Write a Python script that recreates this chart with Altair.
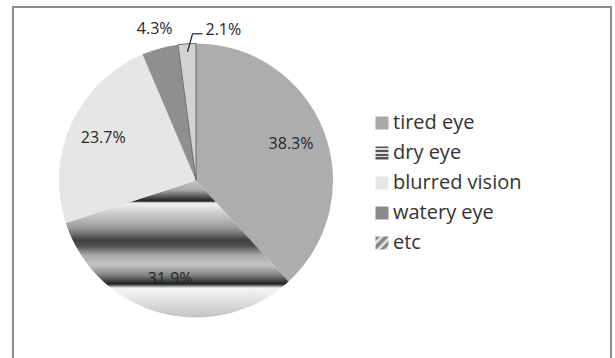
import math

import altair as alt
import pandas as pd

# Survey of eye symptoms: share of respondents per symptom (%)
categories = ["tired eye", "dry eye", "blurred vision", "watery eye", "etc"]
shares = [38.3, 31.9, 23.7, 4.3, 2.1]
share_labels = ["38.3%", "31.9%", "23.7%", "4.3%", "2.1%"]

df = pd.DataFrame({
    "cat": categories,
    "val": shares,
    "label": share_labels,
    "order": list(range(len(categories))),
})

# pie geometry (pixels)
CX, CY, R = 196, 180.5, 137
FONT = "Open Sans"
TEXT = "#262626"


def grad(stops, x1=0, y1=0, x2=0, y2=1):
    return alt.LinearGradient(
        gradient="linear", x1=x1, y1=y1, x2=x2, y2=y2,
        stops=[alt.GradientStop(offset=o, color=c) for o, c in stops],
    )


# banded shading for "dry eye"
dry_fill = grad([
    (0.0, "#c4c4c4"), (0.07, "#a8a8a8"), (0.15, "#1e1e1e"), (0.164, "#f2f2f2"),
    (0.215, "#d8d8d8"), (0.347, "#9a9a9a"), (0.434, "#404040"), (0.478, "#505050"),
    (0.544, "#a8a8a8"), (0.617, "#c4c4c4"), (0.697, "#7a7a7a"), (0.755, "#1e1e1e"),
    (0.785, "#f4f4f4"), (0.872, "#e2e2e2"), (1.0, "#c2c2c2"),
])
dry_symbol = grad([
    (0.0, "#555"), (0.15, "#555"), (0.15, "#ddd"), (0.28, "#ddd"),
    (0.28, "#555"), (0.43, "#555"), (0.43, "#ddd"), (0.56, "#ddd"),
    (0.56, "#555"), (0.71, "#555"), (0.71, "#ddd"), (0.84, "#ddd"),
    (0.84, "#555"), (1.0, "#555"),
])
etc_symbol = grad([
    (0.0, "#888"), (0.17, "#888"), (0.17, "#ddd"), (0.33, "#ddd"),
    (0.33, "#888"), (0.5, "#888"), (0.5, "#ddd"), (0.67, "#ddd"),
    (0.67, "#888"), (0.83, "#888"), (0.83, "#ddd"), (1.0, "#ddd"),
], x1=0, y1=0, x2=1, y2=1)

slice_fill = {
    "tired eye": "#adadad",
    "dry eye": dry_fill,
    "blurred vision": "#e6e6e6",
    "watery eye": "#8f8f8f",
    "etc": "#d2d2d2",
}
symbol_fill = {
    "tired eye": "#a8a8a8",
    "dry eye": dry_symbol,
    "blurred vision": "#e6e6e6",
    "watery eye": "#8a8a8a",
    "etc": etc_symbol,
}

base = (
    alt.Chart(df)
    .transform_joinaggregate(total="sum(val)")
    .transform_window(cum="sum(val)", sort=[alt.SortField("order")], frame=[None, 0])
    .transform_calculate(
        f0="(datum.cum - datum.val) / datum.total",
        f1="datum.cum / datum.total",
        fm="(datum.cum - datum.val / 2) / datum.total",
    )
)

theta_scale = alt.Scale(domain=[0, 1], range=[0, 2 * math.pi])

layers = []

# frame around the whole figure
frame = alt.Chart(pd.DataFrame({"k": [0]})).mark_rect(
    filled=False, stroke="#8c8c8c", strokeWidth=2
).encode(x=alt.value(13), x2=alt.value(611), y=alt.value(7), y2=alt.value(420))
layers.append(frame)

# pie slices
for cat in categories:
    kw = {}
    if cat == "etc":
        kw = dict(stroke="#555555", strokeWidth=0.8)
    layers.append(
        base.transform_filter(alt.datum.cat == cat)
        .mark_arc(radius=R, fill=slice_fill[cat], **kw)
        .encode(
            theta=alt.Theta("f0:Q", scale=theta_scale),
            theta2="f1:Q",
            x=alt.value(CX),
            y=alt.value(CY),
        )
    )

# labels inside the three large slices
layers.append(
    base.transform_filter(alt.datum.order < 3)
    .mark_text(radius=102, font=FONT, fontSize=16, color=TEXT)
    .encode(
        theta=alt.Theta("fm:Q", scale=theta_scale),
        text="label:N",
        x=alt.value(CX),
        y=alt.value(CY),
    )
)

# label outside the "watery eye" slice
layers.append(
    base.transform_filter(alt.datum.cat == "watery eye")
    .mark_text(radius=157, font=FONT, fontSize=16, color=TEXT)
    .encode(
        theta=alt.Theta("fm:Q", scale=theta_scale),
        text="label:N",
        x=alt.value(CX),
        y=alt.value(CY),
    )
)

# "etc" label with a leader line
leader = base.transform_filter(alt.datum.cat == "etc").transform_calculate(
    p1x=f"{CX} + {R - 8} * sin(2 * PI * datum.fm)",
    p1y=f"{CY} - {R - 8} * cos(2 * PI * datum.fm)",
).transform_calculate(
    p2x="datum.p1x + 5",
    p2y="datum.p1y - 18",
).transform_calculate(
    p3x="datum.p2x + 10",
    p3y="datum.p2y",
)
layers.append(
    leader.mark_rule(color="#222222", strokeWidth=1.2).encode(
        x=alt.X("p1x:Q", scale=None, axis=None),
        y=alt.Y("p1y:Q", scale=None, axis=None),
        x2="p2x:Q",
        y2="p2y:Q",
    )
)
layers.append(
    leader.mark_rule(color="#222222", strokeWidth=1.2).encode(
        x=alt.X("p2x:Q", scale=None, axis=None),
        y=alt.Y("p2y:Q", scale=None, axis=None),
        x2="p3x:Q",
        y2="p3y:Q",
    )
)
layers.append(
    leader.mark_text(font=FONT, fontSize=16, color=TEXT, align="left", baseline="middle", dx=3, dy=-4)
    .encode(
        x=alt.X("p3x:Q", scale=None, axis=None),
        y=alt.Y("p3y:Q", scale=None, axis=None),
        text="label:N",
    )
)

# legend
legend = base.transform_calculate(ly="123 + 30 * datum.order")
for cat in categories:
    layers.append(
        legend.transform_filter(alt.datum.cat == cat)
        .mark_square(size=169, fill=symbol_fill[cat], opacity=1, strokeWidth=0)
        .encode(x=alt.value(382), y=alt.Y("ly:Q", scale=None, axis=None))
    )
layers.append(
    legend.mark_text(font=FONT, fontSize=20, color="#333333", align="left", baseline="middle")
    .encode(
        x=alt.value(393),
        y=alt.Y("ly:Q", scale=None, axis=None),
        text="cat:N",
    )
)

chart = (
    alt.layer(*layers)
    .properties(width=615, height=358, padding=0, autosize="none")
    .configure_view(stroke=None)
)

chart.save("out.html", embed_options={"renderer": "svg", "actions": False})
